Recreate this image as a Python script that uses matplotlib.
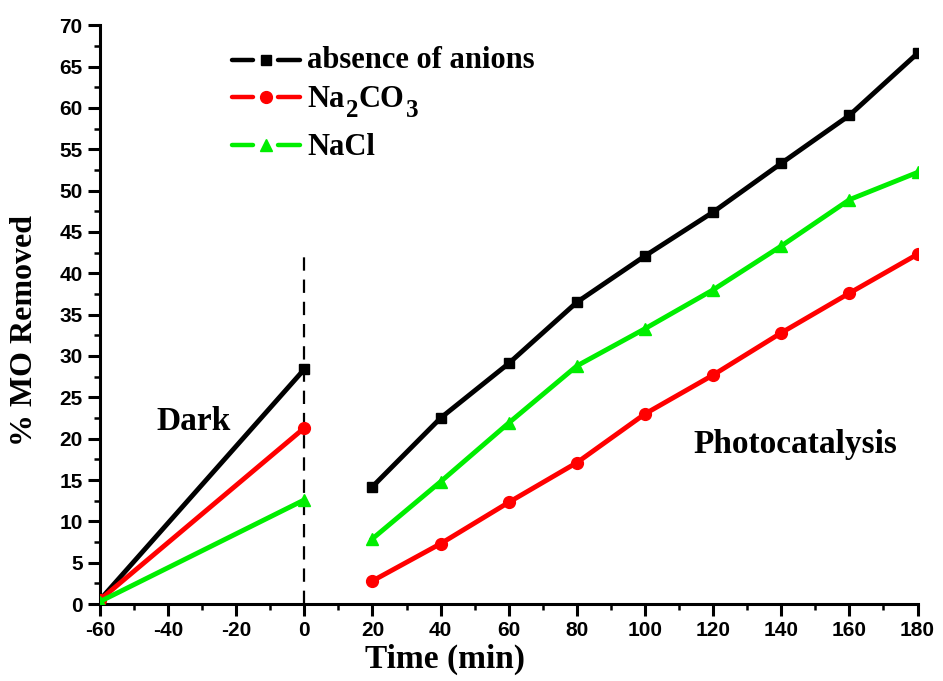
import matplotlib
matplotlib.use("Agg")
import matplotlib.pyplot as plt
from matplotlib.ticker import MultipleLocator
from matplotlib.transforms import offset_copy

plt.rcParams['axes.unicode_minus'] = False

# Dark adsorption stage
t_dark = [-60, 0]
dark_none = [0.5, 28.4]
dark_na2co3 = [0.5, 21.3]
dark_nacl = [0.3, 12.6]

# Photocatalysis stage
t_photo = [20, 40, 60, 80, 100, 120, 140, 160, 180]
photo_none = [14.2, 22.5, 29.1, 36.5, 42.1, 47.4, 53.3, 59.1, 66.6]
photo_na2co3 = [2.8, 7.3, 12.3, 17.1, 23.0, 27.7, 32.8, 37.6, 42.3]
photo_nacl = [7.9, 14.8, 21.9, 28.8, 33.3, 38.0, 43.3, 48.9, 52.2]

# legend labels as (text, is_subscript) pieces
labels = [[('absence of anions', False)],
          [('Na', False), ('2', True), ('CO', False), ('3', True)],
          [('NaCl', False)]]
colors = ['#000000', '#ff0000', '#00ee00']
markers = ['s', 'o', '^']
msizes = [7.5, 8.5, 8.5]

fig = plt.figure(figsize=(9.43, 6.81), dpi=100)
ax = fig.add_axes([0.106, 0.113, 0.867, 0.850])

series = [(dark_none, photo_none), (dark_na2co3, photo_na2co3), (dark_nacl, photo_nacl)]
for (d, p), c, m, ms in zip(series, colors, markers, msizes):
    ax.plot(t_dark, d, color=c, lw=3.5, marker=m, ms=ms, zorder=3)
    ax.plot(t_photo, p, color=c, lw=3.5, marker=m, ms=ms, zorder=3)

# divider between dark and light periods
ax.plot([0, 0], [0, 42.7], color='black', lw=1.6, ls=(0, (6, 4)), zorder=2)

ax.set_xlim(-60, 180)
ax.set_ylim(0, 70)
ax.xaxis.set_major_locator(MultipleLocator(20))
ax.xaxis.set_minor_locator(MultipleLocator(10))
ax.yaxis.set_major_locator(MultipleLocator(5))
ax.yaxis.set_minor_locator(MultipleLocator(2.5))

for s in ['top', 'right']:
    ax.spines[s].set_visible(False)
for s in ['left', 'bottom']:
    ax.spines[s].set_linewidth(2.2)

ax.tick_params(which='major', direction='out', length=8.5, width=2.2, labelsize=15, pad=4)
ax.tick_params(which='minor', direction='out', length=4.3, width=1.8)
for lbl in ax.get_xticklabels() + ax.get_yticklabels():
    lbl.set_fontfamily('Liberation Sans')
    lbl.set_fontweight('bold')

ax.set_xlabel('Time (min)', fontsize=24, fontweight='bold', family='Liberation Serif')
ax.set_ylabel('% MO Removed', fontsize=23, fontweight='bold', family='Liberation Serif')
ax.xaxis.set_label_coords(0.4218, -0.068)
ax.yaxis.set_label_coords(-0.075, 0.473)

ax.text(-32.5, 21.0, 'Dark', fontsize=24, fontweight='bold', family='Liberation Serif',
        ha='center', va='baseline')
ax.text(144, 18.3, 'Photocatalysis', fontsize=24, fontweight='bold', family='Liberation Serif',
        ha='center', va='baseline')

# legend drawn in axes coordinates: line - marker - line, then label
row_line_y = [0.9396, 0.8756, 0.7927]
row_text_y = [0.9257, 0.8584, 0.7755]
seg_left = (0.1614, 0.1870)
seg_right = (0.2180, 0.2445)
mark_x = 0.2029
text_x = 0.2531

fig.canvas.draw()
renderer = fig.canvas.get_renderer()
for c, m, ms, pieces, ly, ty in zip(colors, markers, msizes, labels, row_line_y, row_text_y):
    for seg in (seg_left, seg_right):
        ax.plot(seg, [ly, ly], transform=ax.transAxes, color=c, lw=3.2,
                solid_capstyle='round', clip_on=False, zorder=4)
    ax.plot([mark_x], [ly], transform=ax.transAxes, color=c, marker=m, ms=ms,
            ls='none', clip_on=False, zorder=4)
    dx = 0.0
    for txt, sub in pieces:
        tr = offset_copy(ax.transAxes, fig=fig, x=dx + (1.5 if sub else 0.0),
                         y=-10.0 if sub else 0.0, units='dots')
        t = ax.text(text_x, ty, txt, transform=tr, fontsize=18 if sub else 22,
                    fontweight='bold', family='Liberation Serif', ha='left', va='baseline')
        bb = t.get_window_extent(renderer)
        dx += bb.width + (1.5 if sub else 0.0)

fig.savefig('out.png', dpi=100)
